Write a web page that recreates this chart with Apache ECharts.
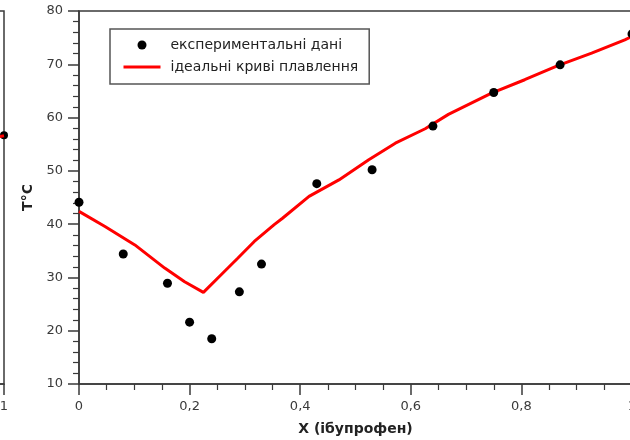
<!DOCTYPE html>
<html>
<head>
<meta charset="utf-8">
<script src="https://cdn.jsdelivr.net/npm/echarts@6/dist/echarts.min.js"></script>
<style>
html,body{margin:0;padding:0;background:#fff;}
#c{width:630px;height:440px;}
</style>
</head>
<body>
<div id="c"></div>
<script>
// Experimental data: X (ibuprofen mole fraction), T °C
const expX = [0, 0.08, 0.16, 0.20, 0.24, 0.29, 0.33, 0.43, 0.53, 0.64, 0.75, 0.87, 1.0];
const expT = [44.1, 34.4, 28.9, 21.6, 18.5, 27.3, 32.5, 47.6, 50.2, 58.4, 64.7, 69.9, 75.7];
// Ideal melting curves
const idealX = [0, 0.047, 0.101, 0.155, 0.191, 0.225, 0.257, 0.287, 0.317, 0.353, 0.368, 0.416, 0.47, 0.524, 0.572, 0.626, 0.668, 0.746, 0.806, 0.867, 0.927, 0.987, 1.0];
const idealT = [42.4, 39.55, 36.1, 31.75, 29.2, 27.2, 30.5, 33.6, 36.75, 39.9, 41.1, 45.2, 48.3, 52.1, 55.2, 57.9, 60.6, 64.6, 67.1, 69.8, 72.1, 74.6, 75.2];
// Visible tail of the neighbouring (cropped) chart on the left
const leftExpX = [1.0];
const leftExpT = [56.7];
const leftIdealX = [0.98, 1.0];
const leftIdealT = [56.2, 56.6];
// Axis tick labels
const xTickValues = [0, 0.2, 0.4, 0.6, 0.8, 1];
const xTickLabels = ['0', '0,2', '0,4', '0,6', '0,8', '1'];
const yTickValues = [10, 20, 30, 40, 50, 60, 70, 80];
const yTickLabels = ['10', '20', '30', '40', '50', '60', '70', '80'];

const seriesNames = ['експериментальні дані', 'ідеальні криві плавлення'];
const xName = 'X (ібупрофен)';
const yName = 'T°C';

const zip = (a, b) => a.map((v, i) => [v, b[i]]);
const xFmt = v => { const i = xTickValues.findIndex(t => Math.abs(t - v) < 1e-9); return i >= 0 ? xTickLabels[i] : ''; };
const yFmt = v => { const i = yTickValues.findIndex(t => Math.abs(t - v) < 1e-9); return i >= 0 ? yTickLabels[i] : ''; };

const FONT = 'DejaVu Sans';
const AX = '#3a3a3a';
const axisCommon = {
  axisLine: { show: true, lineStyle: { color: AX, width: 1.5 } },
  axisTick: { show: true, inside: false, length: 11, lineStyle: { color: AX, width: 1.5 } },
  minorTick: { show: true, length: 6, lineStyle: { color: AX, width: 1.2 } },
  splitLine: { show: false },
  minorSplitLine: { show: false },
  axisLabel: { color: '#3a3a3a', fontFamily: FONT, fontSize: 13, margin: 16 }
};

const chart = echarts.init(document.getElementById('c'), null, { renderer: 'canvas' });
chart.setOption({
  animation: false,
  backgroundColor: '#fff',
  grid: [
    { left: 79, right: -2, top: 11, bottom: 56, show: true, borderColor: AX, borderWidth: 1.5, backgroundColor: 'transparent', containLabel: false, outerBoundsMode: 'none' },
    { left: -548, right: 626, top: 11, bottom: 56, show: true, borderColor: AX, borderWidth: 1.5, backgroundColor: 'transparent', containLabel: false, outerBoundsMode: 'none' }
  ],
  legend: {
    left: 110, top: 29,
    orient: 'vertical',
    padding: [8, 11, 9, 12],
    itemGap: 6,
    itemWidth: 37, itemHeight: 9,
    borderColor: '#555', borderWidth: 1.5,
    backgroundColor: '#fff',
    textStyle: { fontFamily: FONT, fontSize: 14, color: '#222', lineHeight: 16, padding: [0, 0, 0, 5] },
    data: [
      { name: seriesNames[0], icon: 'circle', itemStyle: { color: '#000', opacity: 1 } },
      { name: seriesNames[1], itemStyle: { opacity: 0 }, lineStyle: { color: '#ff0000', width: 3 } }
    ]
  },
  xAxis: [
    Object.assign({}, axisCommon, {
      gridIndex: 0, type: 'value', min: 0, max: 1, interval: 0.2,
      minorTick: Object.assign({}, axisCommon.minorTick, { splitNumber: 4 }),
      axisLabel: Object.assign({}, axisCommon.axisLabel, { formatter: xFmt, showMaxLabel: true }),
      name: xName, nameLocation: 'middle', nameGap: 38,
      nameTextStyle: { fontFamily: FONT, fontSize: 14, fontWeight: 'bold', color: '#222' }
    }),
    Object.assign({}, axisCommon, {
      gridIndex: 1, type: 'value', min: 0, max: 1, interval: 0.2,
      minorTick: Object.assign({}, axisCommon.minorTick, { splitNumber: 4 }),
      axisLabel: Object.assign({}, axisCommon.axisLabel, { formatter: xFmt })
    })
  ],
  yAxis: [
    Object.assign({}, axisCommon, {
      gridIndex: 0, type: 'value', min: 10, max: 80, interval: 10,
      minorTick: Object.assign({}, axisCommon.minorTick, { splitNumber: 5 }),
      axisLabel: Object.assign({}, axisCommon.axisLabel, { formatter: yFmt }),
      name: yName, nameLocation: 'middle', nameGap: 42, nameRotate: 90,
      nameTextStyle: { fontFamily: FONT, fontSize: 14, fontWeight: 'bold', color: '#222' }
    }),
    Object.assign({}, axisCommon, {
      gridIndex: 1, type: 'value', min: 10, max: 80, interval: 10,
      minorTick: Object.assign({}, axisCommon.minorTick, { splitNumber: 5 }),
      axisLabel: Object.assign({}, axisCommon.axisLabel, { formatter: yFmt })
    })
  ],
  series: [
    {
      name: seriesNames[0], type: 'scatter', xAxisIndex: 0, yAxisIndex: 0,
      data: zip(expX, expT), symbol: 'circle', symbolSize: 9,
      itemStyle: { color: '#000', opacity: 1 }, z: 3
    },
    {
      name: seriesNames[1], type: 'line', xAxisIndex: 0, yAxisIndex: 0,
      data: zip(idealX, idealT), symbol: 'none', smooth: false,
      lineStyle: { color: '#ff0000', width: 3 }, itemStyle: { color: '#ff0000' }, z: 2
    },
    {
      name: 'left-exp', type: 'scatter', xAxisIndex: 1, yAxisIndex: 1,
      data: zip(leftExpX, leftExpT), symbol: 'circle', symbolSize: 8,
      itemStyle: { color: '#000', opacity: 1 }, z: 2
    },
    {
      name: 'left-ideal', type: 'line', xAxisIndex: 1, yAxisIndex: 1,
      data: zip(leftIdealX, leftIdealT), symbol: 'none',
      lineStyle: { color: '#ff0000', width: 3 }, z: 3
    }
  ]
});
</script>
</body>
</html>
